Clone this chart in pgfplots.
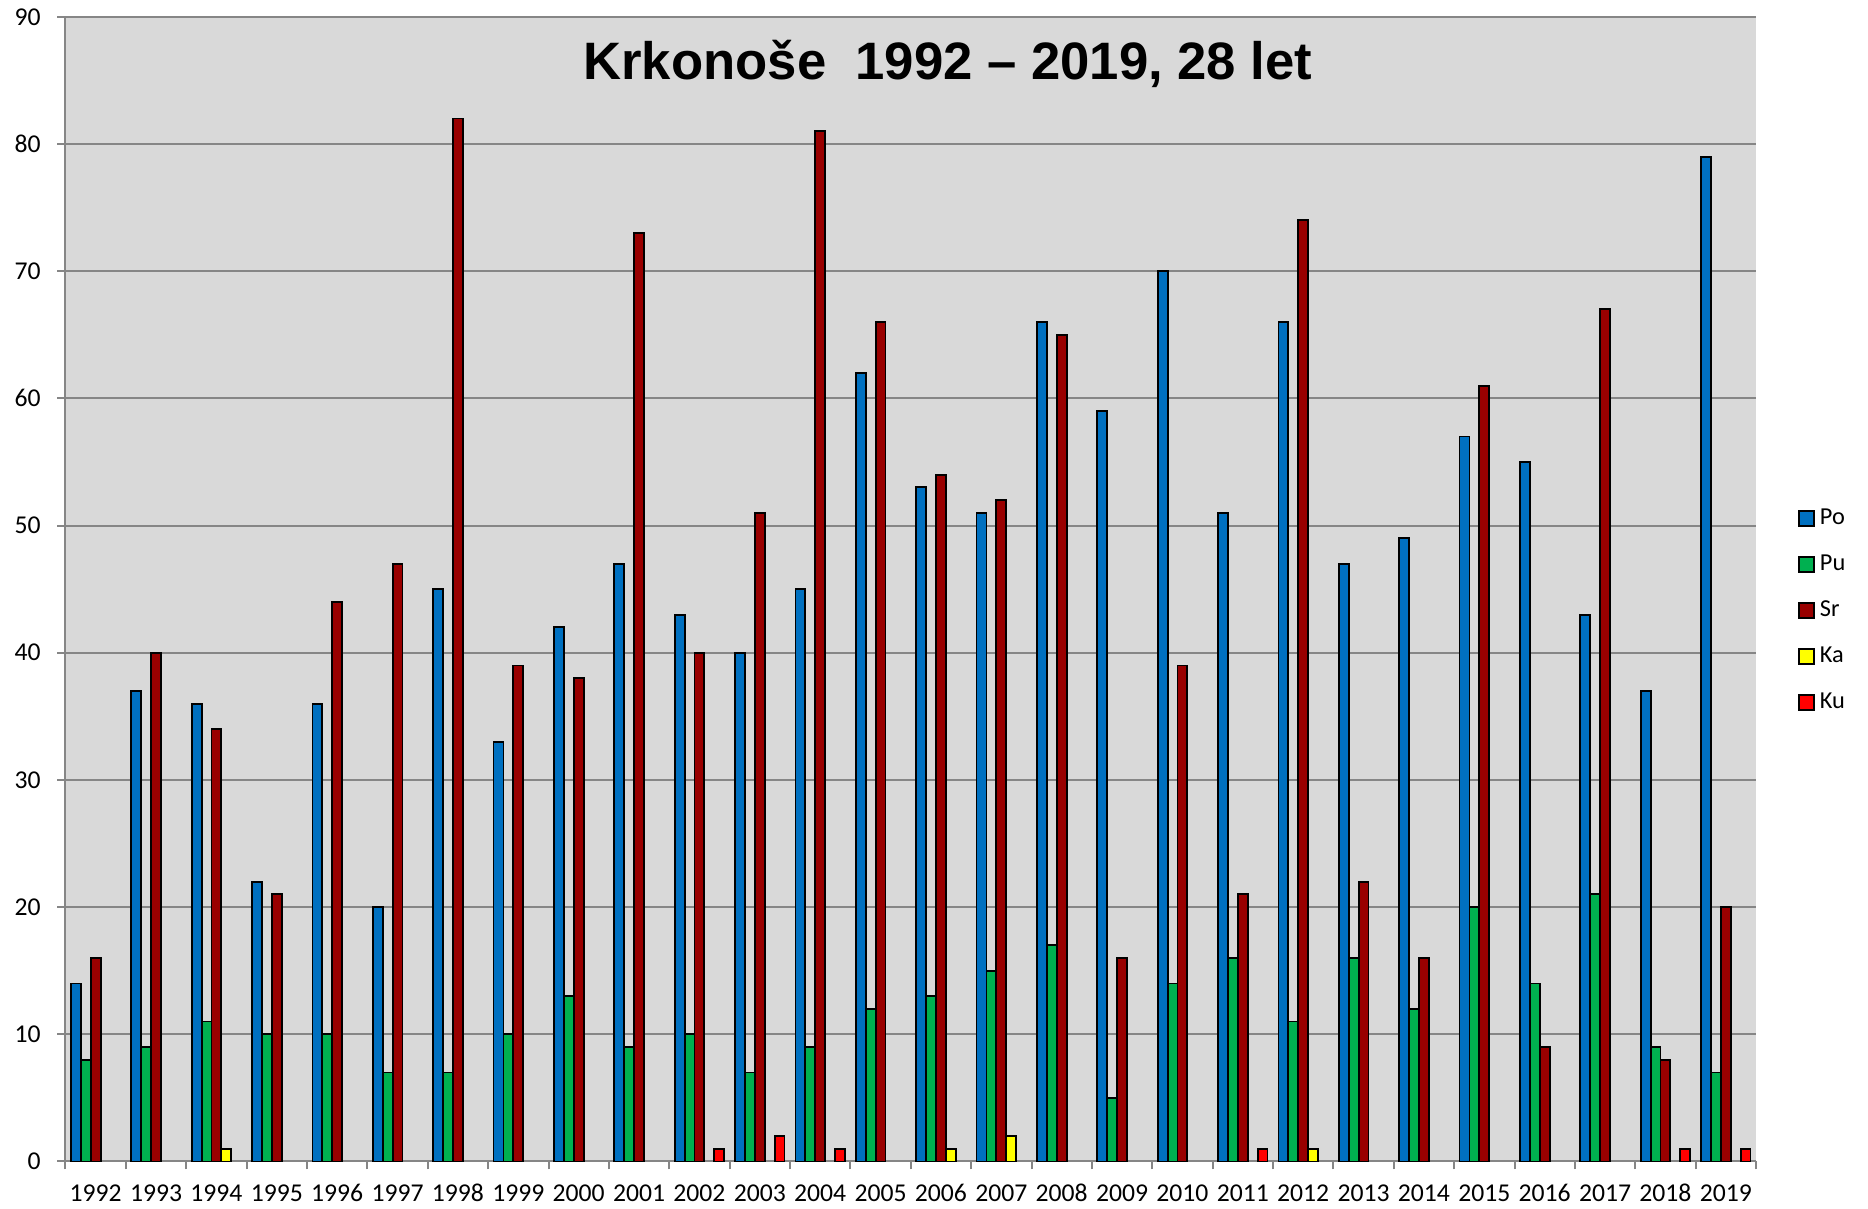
\documentclass[border=0pt]{standalone}
\usepackage{fontspec}
\setmainfont{Carlito}
\newfontfamily\titlefont{Liberation Sans}
\usepackage{pgfplots}
\pgfplotsset{compat=1.18}

\definecolor{cPo}{HTML}{0070C0}
\definecolor{cPu}{HTML}{00B050}
\definecolor{cSr}{HTML}{990000}
\definecolor{cKa}{HTML}{FFFF00}
\definecolor{cKu}{HTML}{FF0000}
\definecolor{plotbg}{HTML}{D9D9D9}
\definecolor{gridc}{HTML}{868686}

\begin{document}
\begin{tikzpicture}
\begin{axis}[
    at={(0,0)}, anchor=south west,
    scale only axis,
    width=507.15pt, height=343.4pt,
    axis background/.style={fill=plotbg},
    xmin=-0.5, xmax=27.5,
    ymin=0, ymax=90,
    ytick={0,10,...,90},
    xtick={0,...,27},
    xticklabels={1992,1993,1994,1995,1996,1997,1998,1999,2000,2001,2002,2003,2004,2005,2006,2007,2008,2009,2010,2011,2012,2013,2014,2015,2016,2017,2018,2019},
    minor xtick={-0.5,0.5,...,27.5},
    axis x line*=bottom, axis y line*=left,
    axis line style={gridc, line width=0.6pt},
    x axis line style={-}, y axis line style={-},
    tick align=outside,
    major tick length=2.4pt, minor tick length=2.4pt,
    x tick style={draw=none},
    minor x tick style={draw=gridc, line width=0.6pt},
    y tick style={gridc, line width=0.6pt},
    ymajorgrids, major grid style={gridc, line width=0.6pt},
    tick label style={font=\fontsize{7.7}{9}\selectfont, black},
    /pgf/number format/assume math mode=true,
    xticklabel style={anchor=base, yshift=-9.6pt},
    yticklabel style={xshift=-1.5pt},
    ybar, bar width=0.164,
    every axis plot/.append style={draw=black, line width=0.55pt},
    legend image code/.code={\draw[#1, draw=black, line width=0.55pt] (0pt,-2.25pt) rectangle (4.5pt,2.25pt);},
    legend style={at={(1.0247,0.571)}, anchor=north west, draw=none, fill=none,
        inner sep=0pt, row sep=7.6pt, font=\fontsize{7.3}{7.3}\selectfont,
        nodes={inner xsep=1.4pt, inner ysep=0pt}},
    legend cell align=left,
    clip=false,
]
\addplot[fill=cPo, bar shift=-0.328] coordinates {
(0,14) (1,37) (2,36) (3,22) (4,36) (5,20) (6,45) (7,33) (8,42) (9,47)
(10,43) (11,40) (12,45) (13,62) (14,53) (15,51) (16,66) (17,59) (18,70) (19,51)
(20,66) (21,47) (22,49) (23,57) (24,55) (25,43) (26,37) (27,79)};
\addlegendentry{Po}
\addplot[fill=cPu, bar shift=-0.164] coordinates {
(0,8) (1,9) (2,11) (3,10) (4,10) (5,7) (6,7) (7,10) (8,13) (9,9)
(10,10) (11,7) (12,9) (13,12) (14,13) (15,15) (16,17) (17,5) (18,14) (19,16)
(20,11) (21,16) (22,12) (23,20) (24,14) (25,21) (26,9) (27,7)};
\addlegendentry{Pu}
\addplot[fill=cSr, bar shift=0] coordinates {
(0,16) (1,40) (2,34) (3,21) (4,44) (5,47) (6,82) (7,39) (8,38) (9,73)
(10,40) (11,51) (12,81) (13,66) (14,54) (15,52) (16,65) (17,16) (18,39) (19,21)
(20,74) (21,22) (22,16) (23,61) (24,9) (25,67) (26,8) (27,20)};
\addlegendentry{Sr}
\addplot[fill=cKa, bar shift=0.164] coordinates {
(2,1) (14,1) (15,2) (20,1)};
\addlegendentry{Ka}
\addplot[fill=cKu, bar shift=0.328] coordinates {
(10,1) (11,2) (12,1) (19,1) (26,1) (27,1)};
\addlegendentry{Ku}
\node[anchor=base, inner sep=0pt] at (rel axis cs:0.522,0.9453)
    {\titlefont\bfseries\fontsize{15.8}{18}\selectfont Krkonoše\ \ 1992 – 2019, 28 let};
\end{axis}
\pgfresetboundingbox
\path[use as bounding box] (-19.65pt,-14.25pt) rectangle (540.75pt,348.45pt);
\end{tikzpicture}
\end{document}
